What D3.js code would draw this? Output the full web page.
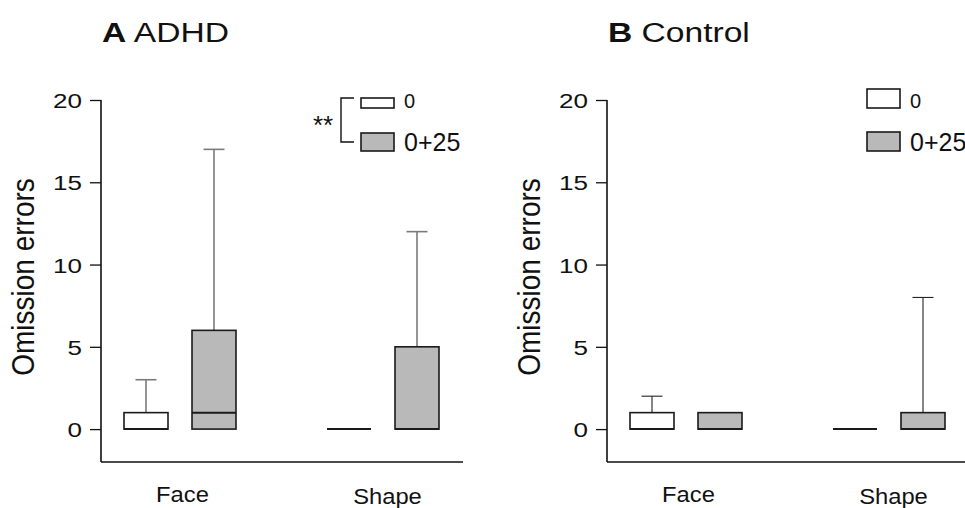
<!DOCTYPE html>
<html>
<head>
<meta charset="utf-8">
<script src="https://cdn.jsdelivr.net/npm/d3@7"></script>
<style>
  body { margin: 0; background: #fff; }
  svg { display: block; font-family: "Liberation Sans", Arial, sans-serif; }
</style>
</head>
<body>
<svg id="chart" width="965" height="508"></svg>
<script>
// categories
var groups = ["Face", "Shape"];
var seriesNames = ["0", "0+25"];
var yTicks = [0, 5, 10, 15, 20];

// box stats, order: Face/0, Face/0+25, Shape/0, Shape/0+25
var adhdMin    = [0, 0, 0, 0];
var adhdQ1     = [0, 0, 0, 0];
var adhdMedian = [0, 1, 0, 0];
var adhdQ3     = [1, 6, 0, 5];
var adhdMax    = [3, 17, 0, 12];

var ctrlMin    = [0, 0, 0, 0];
var ctrlQ1     = [0, 0, 0, 0];
var ctrlMedian = [0, 0, 0, 0];
var ctrlQ3     = [1, 1, 0, 1];
var ctrlMax    = [2, 1, 0, 8];

function rows(mn, q1, med, q3, mx) {
  var out = [];
  groups.forEach(function(g, gi) {
    seriesNames.forEach(function(s, si) {
      var i = gi * seriesNames.length + si;
      out.push({group: g, series: s, min: mn[i], q1: q1[i], median: med[i], q3: q3[i], max: mx[i]});
    });
  });
  return out;
}

var panels = [
  {letter: "A", name: "ADHD", left: 101, data: rows(adhdMin, adhdQ1, adhdMedian, adhdQ3, adhdMax),
   whisker: "#7a7a7a", whiskerWidth: 1.6, sig: true, legendH: [10, 18]},
  {letter: "B", name: "Control", left: 607, data: rows(ctrlMin, ctrlQ1, ctrlMedian, ctrlQ3, ctrlMax),
   whisker: "#222", whiskerWidth: 1.1, sig: false, legendH: [19, 19]}
];

var fills = {"0": "#ffffff", "0+25": "#b9b9b9"};
var ink = "#111";
var svg = d3.select("#chart");

var y = d3.scaleLinear().domain([-2, 20]).range([462, 100]);
var x = d3.scalePoint().domain(groups).range([79, 282]);
var xs = d3.scalePoint().domain(seriesNames).range([-34, 34]);
var boxW = 44, capW = 21, axisLen = 362;

// the source figure is a bit stretched sideways, so text gets a horizontal scale
function place(sel, tx, ty, sx, sy) {
  sel.attr("x", 0).attr("y", 0)
     .attr("transform", "translate(" + tx + "," + ty + ") scale(" + sx + "," + (sy || 1) + ")");
}

panels.forEach(function(p) {
  var g = svg.append("g").attr("transform", "translate(" + p.left + ",0)");

  // title
  var t = g.append("text").style("font-size", "28px").attr("fill", ink);
  t.append("tspan").style("font-weight", "bold").text(p.letter);
  t.append("tspan").text(" " + p.name);
  place(t, 1, 42, 1.2);

  // y axis
  var yAxis = g.append("g")
    .call(d3.axisLeft(y).tickValues(yTicks).tickSize(11).tickSizeOuter(0));
  yAxis.select(".domain").attr("stroke", ink).attr("stroke-width", 1.6)
    .attr("d", "M0," + y(20) + "V" + y(-2));
  yAxis.selectAll(".tick line").attr("stroke", ink).attr("stroke-width", 1.3);
  yAxis.selectAll(".tick text").style("font-size", "21px").attr("fill", ink)
    .style("font-family", "'Liberation Sans', Arial, sans-serif")
    .attr("dy", "0.36em")
    .attr("x", 0)
    .attr("transform", "translate(-19,0) scale(1.24,1)");

  // x axis baseline (no ticks)
  var xAxis = g.append("g").attr("transform", "translate(0," + y(-2) + ")")
    .call(d3.axisBottom(x).tickSize(0));
  xAxis.select(".domain").attr("stroke", ink).attr("stroke-width", 1.6)
    .attr("d", "M0,0H" + axisLen);
  xAxis.selectAll(".tick text").style("font-size", "22px").attr("fill", ink)
    .style("font-family", "'Liberation Sans', Arial, sans-serif")
    .attr("dy", null)
    .each(function(d) {
      place(d3.select(this), d === "Shape" ? 4 : 2, d === "Shape" ? 42 : 40, 1.08);
    });

  // y title
  g.append("text")
    .attr("transform", "translate(-67,277) rotate(-90) scale(1,1.12)")
    .attr("text-anchor", "middle")
    .style("font-size", "28px").attr("fill", ink)
    .text("Omission errors");

  // boxes
  var b = g.selectAll(".box").data(p.data).enter().append("g")
    .attr("transform", function(d) { return "translate(" + (x(d.group) + xs(d.series)) + ",0)"; });

  var w = b.filter(function(d) { return d.max > d.q3; });
  w.append("line")
    .attr("x1", 0).attr("x2", 0)
    .attr("y1", function(d) { return y(d.q3); }).attr("y2", function(d) { return y(d.max); })
    .attr("stroke", p.whisker).attr("stroke-width", p.whiskerWidth);
  w.append("line")
    .attr("x1", -capW / 2).attr("x2", capW / 2)
    .attr("y1", function(d) { return y(d.max); }).attr("y2", function(d) { return y(d.max); })
    .attr("stroke", p.whisker).attr("stroke-width", p.whiskerWidth);

  b.append("rect")
    .attr("x", -boxW / 2).attr("width", boxW)
    .attr("y", function(d) { return y(d.q3); })
    .attr("height", function(d) { return y(d.q1) - y(d.q3); })
    .attr("fill", function(d) { return fills[d.series]; })
    .attr("stroke", "#1a1a1a").attr("stroke-width", 1.6);

  b.append("line")
    .attr("x1", -boxW / 2).attr("x2", boxW / 2)
    .attr("y1", function(d) { return y(d.median); }).attr("y2", function(d) { return y(d.median); })
    .attr("stroke", "#1a1a1a").attr("stroke-width", 2);

  // legend
  var lg = g.append("g").attr("transform", "translate(260,0)");
  var legBase = [108, 151], legFont = [20, 25];
  seriesNames.forEach(function(s, i) {
    var h = p.legendH[i];
    lg.append("rect").attr("x", 0).attr("y", legBase[i] - h).attr("width", 33).attr("height", h)
      .attr("fill", fills[s]).attr("stroke", "#1a1a1a").attr("stroke-width", 1.6);
    lg.append("text").attr("x", 43).attr("y", legBase[i])
      .style("font-size", legFont[i] + "px").attr("fill", ink).text(s);
  });

  if (p.sig) {
    lg.append("path")
      .attr("d", "M-7,98H-20V142H-7")
      .attr("fill", "none").attr("stroke", ink).attr("stroke-width", 1.4);
    lg.append("text").attr("x", -38).attr("y", 134).attr("text-anchor", "middle")
      .style("font-size", "26px").attr("fill", ink).text("**");
  }
});
</script>
</body>
</html>
